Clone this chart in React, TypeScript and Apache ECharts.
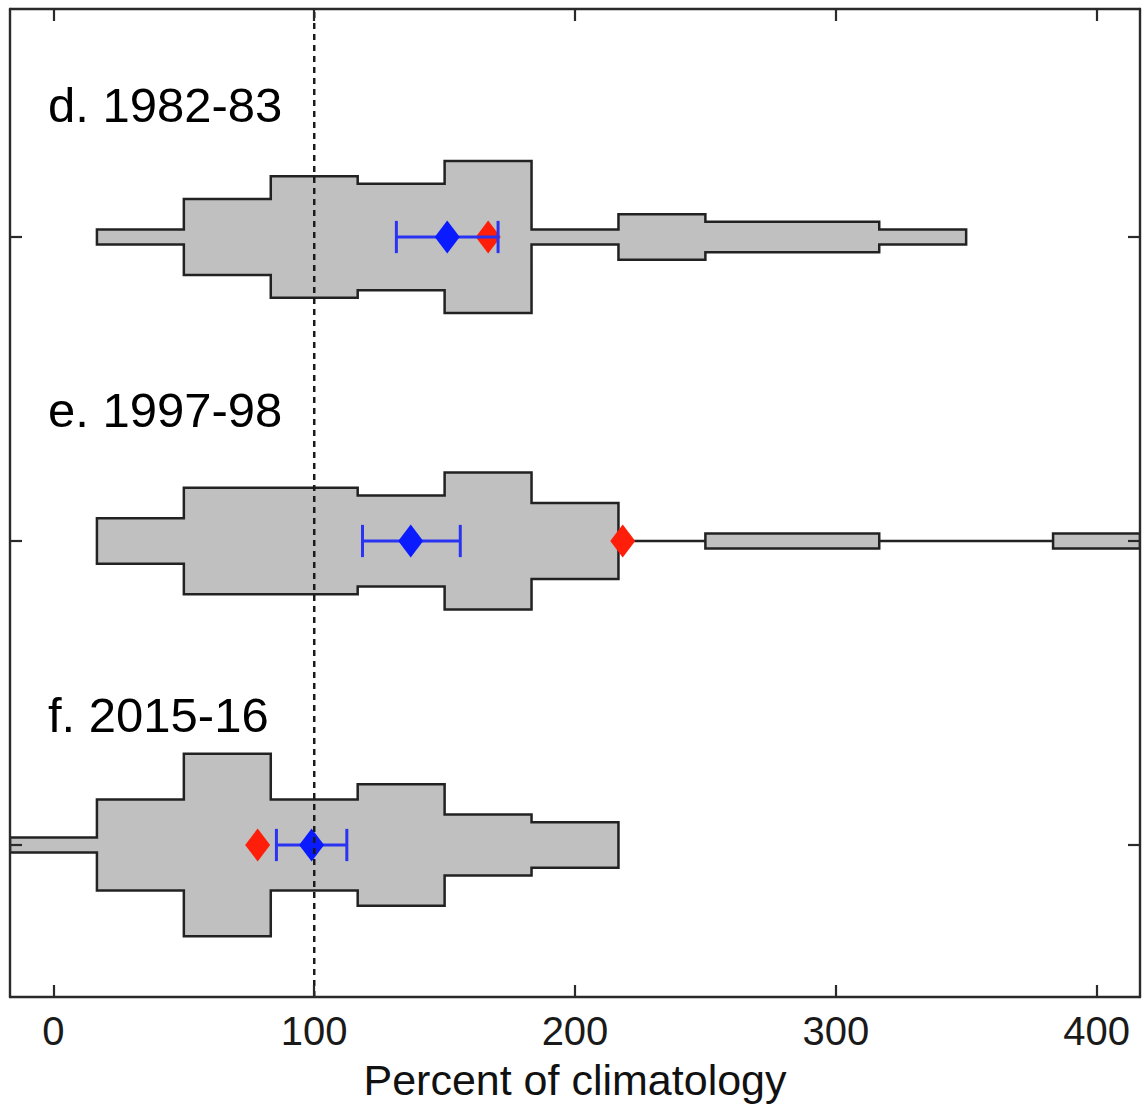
import React, { useEffect, useRef } from "react";
import * as echarts from "echarts";

// Bin edges (percent of climatology), shared by all three histograms
const BIN_EDGES = [-16.667, 16.667, 50, 83.333, 116.667, 150, 183.333, 216.667, 250, 283.333, 316.667, 350, 383.333, 416.667];

// Row labels and their vertical positions
const ROW_LABELS = ["d. 1982-83", "e. 1997-98", "f. 2015-16"];
const ROW_Y = [3, 2, 1];

// Counts per bin (ensemble members)
const COUNTS_D = [0, 1, 5, 8, 7, 10, 1, 3, 2, 2, 1, 0, 0];
const COUNTS_E = [0, 3, 7, 7, 6, 9, 5, 0, 1, 1, 0, 0, 1];
const COUNTS_F = [1, 6, 12, 6, 8, 4, 3, 0, 0, 0, 0, 0, 0];
const COUNTS = [COUNTS_D, COUNTS_E, COUNTS_F];

// Ensemble mean and its confidence interval (blue), observed (red)
const ENS_MEAN = [151, 137, 99];
const CI_LOW = [131.5, 118.5, 85.5];
const CI_HIGH = [170.5, 156, 112.5];
const OBSERVED = [166.7, 218.3, 78.3];

// Tick values
const X_TICKS = [0, 100, 200, 300, 400];
const Y_TICKS = [1, 2, 3];
const CLIMATOLOGY = 100;

const FONT = '"Liberation Sans", Arial, Helvetica, sans-serif';
const HALF_PER_COUNT = 0.025; // y units per member (half-width)
const CAP_HALF = 0.053;

export default function App() {
  const ref = useRef<HTMLDivElement>(null);

  useEffect(() => {
    document.body.style.margin = "0";
    if (!ref.current) return;
    const chart = echarts.init(ref.current, undefined, { renderer: "svg" });

    const axisLine = { show: true, onZero: false, lineStyle: { color: "#2a2a2a", width: 2.4 } };
    const tickStyle = { color: "#2a2a2a", width: 2.2 };

    const option: any = {
      animation: false,
      backgroundColor: "#ffffff",
      grid: { left: 10, top: 9, width: 1130, height: 991, containLabel: false },
      xAxis: [
        {
          type: "value",
          min: BIN_EDGES[0],
          max: BIN_EDGES[BIN_EDGES.length - 1],
          position: "bottom",
          z: 10,
          axisLine,
          splitLine: { show: false },
          axisTick: { show: true, inside: true, length: 12, lineStyle: tickStyle, customValues: X_TICKS },
          axisLabel: {
            show: true,
            customValues: X_TICKS,
            margin: 14,
            fontSize: 40,
            fontFamily: FONT,
            color: "#1a1a1a",
            formatter: (v: number) => String(Math.round(v)),
          },
          name: "Percent of climatology",
          nameLocation: "middle",
          nameGap: 61,
          nameTextStyle: { fontSize: 43, fontFamily: FONT, color: "#111" },
        },
        {
          type: "value",
          min: BIN_EDGES[0],
          max: BIN_EDGES[BIN_EDGES.length - 1],
          position: "top",
          z: 10,
          axisLine,
          splitLine: { show: false },
          axisTick: { show: true, inside: true, length: 12, lineStyle: tickStyle, customValues: X_TICKS },
          axisLabel: { show: false },
        },
      ],
      yAxis: [
        {
          type: "value",
          min: 0.5,
          max: 3.75,
          position: "left",
          z: 10,
          axisLine,
          splitLine: { show: false },
          axisTick: { show: true, inside: true, length: 12, lineStyle: tickStyle, customValues: Y_TICKS },
          axisLabel: { show: false },
        },
        {
          type: "value",
          min: 0.5,
          max: 3.75,
          position: "right",
          z: 10,
          axisLine,
          splitLine: { show: false },
          axisTick: { show: true, inside: true, length: 12, lineStyle: tickStyle, customValues: Y_TICKS },
          axisLabel: { show: false },
        },
      ],
      series: [
        {
          type: "custom",
          name: "histograms",
          z: 2,
          clip: true,
          data: ROW_Y.map((y, i) => [i, y]),
          encode: { y: 1 },
          renderItem: (params: any, api: any) => {
            const i = params.dataIndex;
            const counts = COUNTS[i];
            const yc = ROW_Y[i];
            let first = 0;
            while (first < counts.length && counts[first] === 0) first++;
            let last = counts.length - 1;
            while (last > 0 && counts[last] === 0) last--;
            const top: number[][] = [];
            const bottom: number[][] = [];
            top.push(api.coord([BIN_EDGES[first], yc]));
            for (let k = first; k <= last; k++) {
              const h = counts[k] * HALF_PER_COUNT;
              top.push(api.coord([BIN_EDGES[k], yc + h]));
              top.push(api.coord([BIN_EDGES[k + 1], yc + h]));
              bottom.push(api.coord([BIN_EDGES[k], yc - h]));
              bottom.push(api.coord([BIN_EDGES[k + 1], yc - h]));
            }
            top.push(api.coord([BIN_EDGES[last + 1], yc]));
            const points = top.concat(bottom.reverse());
            return {
              type: "polygon",
              shape: { points },
              style: { fill: "#c0c0c0", stroke: "#222222", lineWidth: 2.5, lineJoin: "miter" },
            };
          },
        },
        {
          type: "scatter",
          name: "observed",
          z: 3,
          symbol: "diamond",
          symbolSize: [25, 33],
          itemStyle: { color: "#ff1e0a", opacity: 1 },
          data: OBSERVED.map((v, i) => [v, ROW_Y[i]]),
        },
        {
          type: "custom",
          name: "interval",
          z: 4,
          data: ROW_Y.map((y, i) => [CI_LOW[i], CI_HIGH[i], y]),
          encode: { x: [0, 1], y: 2 },
          renderItem: (params: any, api: any) => {
            const lo = api.value(0);
            const hi = api.value(1);
            const y = api.value(2);
            const a = api.coord([lo, y]);
            const b = api.coord([hi, y]);
            const aT = api.coord([lo, y + CAP_HALF]);
            const aB = api.coord([lo, y - CAP_HALF]);
            const bT = api.coord([hi, y + CAP_HALF]);
            const bB = api.coord([hi, y - CAP_HALF]);
            const st = { stroke: "#2b33f2", lineWidth: 3 };
            return {
              type: "group",
              children: [
                { type: "line", shape: { x1: a[0], y1: a[1], x2: b[0], y2: b[1] }, style: st },
                { type: "line", shape: { x1: aT[0], y1: aT[1], x2: aB[0], y2: aB[1] }, style: st },
                { type: "line", shape: { x1: bT[0], y1: bT[1], x2: bB[0], y2: bB[1] }, style: st },
              ],
            };
          },
        },
        {
          type: "scatter",
          name: "ensemble mean",
          z: 5,
          symbol: "diamond",
          symbolSize: [25, 33],
          itemStyle: { color: "#0a1cff", opacity: 1 },
          data: ENS_MEAN.map((v, i) => [v, ROW_Y[i]]),
        },
        {
          type: "line",
          name: "climatology",
          z: 6,
          symbol: "none",
          lineStyle: { color: "#1a1a1a", width: 2.5, type: [6, 5] },
          data: [
            [CLIMATOLOGY, 0.5],
            [CLIMATOLOGY, 3.75],
          ],
        },
      ],
      graphic: ROW_LABELS.map((t, i) => ({
        type: "text",
        x: 48,
        y: 105 + i * 305,
        z: 20,
        style: {
          text: t,
          fontSize: 49,
          fontFamily: FONT,
          fill: "#000",
          verticalAlign: "middle",
          align: "left",
        },
      })),
    };

    chart.setOption(option);
    return () => chart.dispose();
  }, []);

  return <div ref={ref} style={{ width: 1143, height: 1106 }} />;
}
